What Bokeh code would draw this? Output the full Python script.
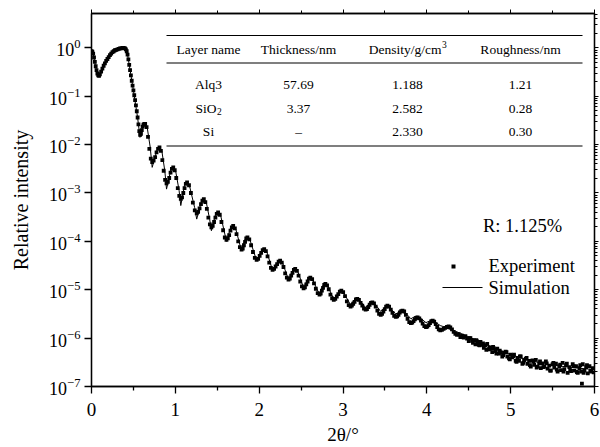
import math
from bokeh.plotting import figure
from bokeh.models import (LogAxis, LinearAxis, Label, BoxAnnotation,
                          FixedTicker, Range1d, CustomJSTickFormatter, LogTickFormatter)
from bokeh.embed import file_html
from bokeh.resources import INLINE

FONT = "Liberation Serif"

# ---------------- data (2theta in degrees, log10 of relative intensity) ----------------
exp_x = [
    0.000, 0.010, 0.020, 0.030, 0.040, 0.050, 0.060, 0.070, 0.080, 0.090,
    0.100, 0.115, 0.130, 0.145, 0.160, 0.175, 0.190, 0.205, 0.220, 0.235,
    0.250, 0.265, 0.280, 0.295, 0.310, 0.325, 0.340, 0.355, 0.370, 0.385,
    0.400, 0.410, 0.420, 0.430, 0.440, 0.450, 0.460, 0.470, 0.480, 0.490,
    0.500, 0.510, 0.520, 0.530, 0.540, 0.550, 0.560, 0.570, 0.580, 0.590,
    0.600, 0.610, 0.620, 0.630, 0.640,
    0.657, 0.674, 0.690, 0.707, 0.724, 0.741, 0.759, 0.776, 0.794, 0.811,
    0.828, 0.845, 0.861, 0.878, 0.895, 0.911, 0.927, 0.943, 0.959, 0.975,
    0.993, 1.011, 1.029, 1.047, 1.065, 1.080, 1.095, 1.110, 1.125, 1.140,
    1.163, 1.186, 1.209, 1.232, 1.255, 1.272, 1.289, 1.306, 1.323, 1.340,
    1.358, 1.376, 1.394, 1.412, 1.430, 1.446, 1.462, 1.478, 1.494, 1.510,
    1.530, 1.550, 1.570, 1.590, 1.610, 1.626, 1.642, 1.658, 1.674, 1.690,
    1.710, 1.730, 1.750, 1.770, 1.790, 1.804, 1.818, 1.832, 1.846, 1.860,
    1.882, 1.904, 1.926, 1.948, 1.970, 1.988, 2.006, 2.024, 2.042, 2.060,
    2.080, 2.100, 2.120, 2.140, 2.160, 2.178, 2.196, 2.214, 2.232, 2.250,
    2.270, 2.290, 2.310, 2.330, 2.350, 2.366, 2.382, 2.398, 2.414, 2.430,
    2.450, 2.470, 2.490, 2.510, 2.530, 2.546, 2.562, 2.578, 2.594, 2.610,
    2.632, 2.654, 2.676, 2.698, 2.720, 2.734, 2.748, 2.762, 2.776, 2.790,
    2.810, 2.830, 2.850, 2.870, 2.890, 2.908, 2.926, 2.944, 2.962, 2.980,
    3.002, 3.024, 3.046, 3.068, 3.090, 3.106, 3.122, 3.138, 3.154, 3.170,
    3.190, 3.210, 3.230, 3.250, 3.270, 3.286, 3.302, 3.318, 3.334, 3.350,
    3.370, 3.390, 3.410, 3.430, 3.450, 3.466, 3.482, 3.498, 3.514, 3.530,
    3.550, 3.570, 3.590, 3.610, 3.630, 3.646, 3.662, 3.678, 3.694, 3.710,
    3.730, 3.750, 3.770, 3.790, 3.810, 3.826, 3.842, 3.858, 3.874, 3.890,
    3.910, 3.930, 3.950, 3.970, 3.990, 4.006, 4.022, 4.038, 4.054, 4.070,
    4.088, 4.106, 4.124, 4.142, 4.160, 4.180, 4.200, 4.220, 4.240, 4.260,
    4.280, 4.300, 4.320, 4.340, 4.360,
    4.38, 4.40, 4.42, 4.44, 4.46, 4.48, 4.50, 4.52, 4.54, 4.56,
    4.58, 4.60, 4.62, 4.64, 4.66, 4.68, 4.70, 4.72, 4.74, 4.76,
    4.78, 4.80, 4.82, 4.84, 4.86, 4.88, 4.90, 4.92, 4.94, 4.96,
    4.98, 5.00, 5.02, 5.04, 5.06, 5.08, 5.10, 5.12, 5.14, 5.16,
    5.18, 5.20, 5.22, 5.24, 5.26, 5.28, 5.30, 5.32, 5.34, 5.36,
    5.38, 5.40, 5.42, 5.44, 5.46, 5.48, 5.50, 5.52, 5.54, 5.56,
    5.58, 5.60, 5.62, 5.64, 5.66, 5.68, 5.70, 5.72, 5.74, 5.76,
    5.78, 5.80, 5.82, 5.84, 5.86, 5.88, 5.90, 5.92, 5.94, 5.96,
    5.98, 5.99, 5.85,
    4.51, 4.55, 4.59, 4.63, 4.67, 4.71, 4.75, 4.79, 4.83, 4.87,
    4.91, 4.95, 4.99, 5.03, 5.07, 5.11, 5.15, 5.19, 5.23, 5.27,
    5.31, 5.35, 5.39, 5.43, 5.47, 5.51, 5.55, 5.59, 5.63, 5.67,
    5.71, 5.75, 5.79, 5.83, 5.87, 5.91, 5.95,
]
exp_log = [
    -0.07, -0.08, -0.12, -0.20, -0.29, -0.38, -0.46, -0.53, -0.57, -0.58,
    -0.55, -0.49, -0.43, -0.37, -0.32, -0.27, -0.23, -0.19, -0.15, -0.12,
    -0.09, -0.07, -0.05, -0.04, -0.03, -0.02, -0.01, -0.01, 0.00, 0.00,
    -0.01, -0.03, -0.07, -0.14, -0.24, -0.35, -0.46, -0.57, -0.68, -0.78,
    -0.88, -0.98, -1.08, -1.19, -1.31, -1.44, -1.58, -1.72, -1.80, -1.78,
    -1.70, -1.63, -1.59, -1.57, -1.57,
    -1.64, -1.84, -2.09, -2.29, -2.36, -2.33, -2.26, -2.16, -2.09, -2.06,
    -2.13, -2.32, -2.54, -2.73, -2.80, -2.77, -2.69, -2.58, -2.50, -2.47,
    -2.53, -2.69, -2.90, -3.06, -3.12, -3.09, -3.00, -2.90, -2.81, -2.78,
    -2.84, -3.00, -3.20, -3.36, -3.42, -3.39, -3.32, -3.23, -3.16, -3.13,
    -3.19, -3.33, -3.51, -3.65, -3.71, -3.68, -3.60, -3.51, -3.43, -3.40,
    -3.45, -3.60, -3.77, -3.92, -3.97, -3.94, -3.87, -3.78, -3.71, -3.68,
    -3.73, -3.85, -4.00, -4.12, -4.17, -4.15, -4.08, -4.01, -3.94, -3.92,
    -3.96, -4.08, -4.22, -4.34, -4.38, -4.36, -4.30, -4.24, -4.18, -4.16,
    -4.20, -4.31, -4.44, -4.55, -4.59, -4.57, -4.52, -4.47, -4.42, -4.40,
    -4.44, -4.53, -4.66, -4.75, -4.79, -4.77, -4.71, -4.65, -4.59, -4.57,
    -4.61, -4.71, -4.83, -4.93, -4.97, -4.95, -4.89, -4.83, -4.77, -4.75,
    -4.78, -4.87, -4.98, -5.07, -5.10, -5.08, -5.02, -4.96, -4.90, -4.88,
    -4.91, -4.99, -5.10, -5.18, -5.21, -5.19, -5.14, -5.09, -5.04, -5.02,
    -5.05, -5.13, -5.24, -5.32, -5.35, -5.33, -5.29, -5.25, -5.20, -5.19,
    -5.21, -5.27, -5.33, -5.39, -5.41, -5.40, -5.36, -5.31, -5.27, -5.26,
    -5.28, -5.35, -5.43, -5.50, -5.52, -5.50, -5.45, -5.40, -5.35, -5.33,
    -5.35, -5.41, -5.48, -5.54, -5.56, -5.55, -5.52, -5.47, -5.44, -5.43,
    -5.45, -5.52, -5.60, -5.67, -5.69, -5.68, -5.65, -5.61, -5.58, -5.57,
    -5.59, -5.64, -5.70, -5.75, -5.77, -5.76, -5.73, -5.69, -5.65, -5.64,
    -5.66, -5.71, -5.77, -5.82, -5.84, -5.83, -5.81, -5.79, -5.77, -5.76,
    -5.78, -5.82, -5.87, -5.91, -5.93,
    -5.92, -5.98, -5.95, -5.99, -5.96, -6.01, -6.06, -6.00, -6.05, -6.04,
    -6.13, -6.07, -6.14, -6.08, -6.14, -6.20, -6.15, -6.12, -6.23, -6.22,
    -6.29, -6.21, -6.27, -6.22, -6.32, -6.30, -6.38, -6.30, -6.28, -6.38,
    -6.42, -6.34, -6.40, -6.34, -6.47, -6.41, -6.47, -6.38, -6.53, -6.46,
    -6.43, -6.53, -6.47, -6.59, -6.46, -6.55, -6.45, -6.59, -6.52, -6.62,
    -6.52, -6.59, -6.48, -6.63, -6.57, -6.67, -6.54, -6.61, -6.53, -6.69,
    -6.58, -6.66, -6.51, -6.64, -6.56, -6.72, -6.60, -6.68, -6.54, -6.67,
    -6.58, -6.72, -6.62, -6.69, -6.54, -6.67, -6.60, -6.73, -6.58, -6.67,
    -6.62, -6.71, -6.94,
    -6.00, -6.10, -6.04, -6.15, -6.11, -6.24, -6.19, -6.18, -6.32, -6.26,
    -6.35, -6.29, -6.44, -6.37, -6.49, -6.38, -6.51, -6.41, -6.56, -6.48,
    -6.61, -6.48, -6.60, -6.52, -6.67, -6.51, -6.65, -6.55, -6.69, -6.53,
    -6.66, -6.58, -6.70, -6.56, -6.72, -6.56, -6.69,
]

sim_x = [
    0.000, 0.020, 0.050, 0.085, 0.120, 0.200, 0.300, 0.385, 0.410, 0.430,
    0.450, 0.500, 0.550, 0.578, 0.610, 0.640, 0.665, 0.700, 0.724, 0.780,
    0.811, 0.840, 0.875, 0.895, 0.945, 0.975, 1.005, 1.045, 1.065, 1.110,
    1.140, 1.170, 1.230, 1.255, 1.310, 1.340, 1.370, 1.410, 1.430, 1.480,
    1.510, 1.540, 1.610, 1.660, 1.690, 1.720, 1.790, 1.830, 1.860, 1.890,
    1.970, 2.030, 2.060, 2.090, 2.160, 2.220, 2.250, 2.280, 2.350, 2.400,
    2.430, 2.460, 2.530, 2.580, 2.610, 2.640, 2.720, 2.760, 2.790, 2.820,
    2.890, 2.950, 2.980, 3.010, 3.090, 3.140, 3.170, 3.200, 3.270, 3.320,
    3.350, 3.380, 3.450, 3.500, 3.530, 3.560, 3.630, 3.680, 3.710, 3.740,
    3.810, 3.860, 3.890, 3.920, 3.990, 4.040, 4.070, 4.100, 4.160, 4.260,
    4.400, 4.600, 4.800, 5.000, 5.200, 5.400, 5.600, 5.800, 6.000,
]
sim_log = [
    -0.05, -0.12, -0.40, -0.60, -0.45, -0.20, -0.05, 0.00, -0.03, -0.14,
    -0.35, -0.88, -1.44, -1.85, -1.63, -1.57, -1.65, -2.05, -2.47, -2.12,
    -2.06, -2.14, -2.55, -2.92, -2.53, -2.47, -2.56, -2.95, -3.26, -2.84,
    -2.78, -2.86, -3.30, -3.54, -3.18, -3.13, -3.20, -3.55, -3.78, -3.44,
    -3.40, -3.46, -4.00, -3.72, -3.68, -3.74, -4.20, -3.96, -3.92, -3.97,
    -4.40, -4.19, -4.16, -4.21, -4.60, -4.43, -4.40, -4.45, -4.79, -4.60,
    -4.57, -4.62, -4.96, -4.78, -4.75, -4.80, -5.10, -4.91, -4.88, -4.93,
    -5.20, -5.05, -5.03, -5.07, -5.31, -5.20, -5.18, -5.22, -5.37, -5.27,
    -5.26, -5.29, -5.45, -5.36, -5.35, -5.38, -5.50, -5.45, -5.44, -5.47,
    -5.60, -5.55, -5.55, -5.58, -5.68, -5.64, -5.64, -5.67, -5.74, -5.80,
    -5.90, -6.05, -6.20, -6.34, -6.45, -6.53, -6.58, -6.62, -6.65,
]

x_ticks = [0, 1, 2, 3, 4, 5, 6]
y_exponents = [0, -1, -2, -3, -4, -5, -6, -7]

table_header = ["Layer name", "Thickness/nm", "Density/g/cm", "Roughness/nm"]
layer_names = ["Alq3", "SiO", "Si"]
layer_subscripts = ["", "2", ""]
thickness = ["57.69", "3.37", "\u2013"]
density = ["1.188", "2.582", "2.330"]
roughness = ["1.21", "0.28", "0.30"]
r_factor = "R: 1.125%"
legend_labels = ["Experiment", "Simulation"]

exp_I = [10 ** v for v in exp_log]
sim_I = [10 ** v for v in sim_log]

# ---------------- figure ----------------
W, H = 600, 447
FL, FR, FT, FB = 91, 594, 13, 386   # frame edges in page pixels
p = figure(width=W, height=H, y_axis_type="log",
           x_range=Range1d(0, 6), y_range=Range1d(1e-7, 10 ** 0.71),
           output_backend="svg", toolbar_location=None,
           min_border_left=FL, min_border_right=W - FR, min_border_top=FT, min_border_bottom=H - FB)
p.grid.visible = False
p.outline_line_color = "black"
p.outline_line_width = 1.3
p.background_fill_color = "white"
p.border_fill_color = "white"

minor_x = [0.5, 1.5, 2.5, 3.5, 4.5, 5.5]

# bottom axis
xa = p.xaxis[0]
xa.ticker = FixedTicker(ticks=x_ticks, minor_ticks=minor_x)
xa.major_tick_out = 7
xa.major_tick_in = 0
xa.minor_tick_out = 4
xa.minor_tick_in = 0
xa.axis_line_width = 1.3
xa.major_tick_line_width = 1.3
xa.minor_tick_line_width = 1.3
xa.major_label_text_font = FONT
xa.major_label_text_font_size = "19px"
xa.major_label_text_color = "black"
xa.major_label_standoff = 9
xa.axis_label = "2\u03b8/\u00b0"
xa.axis_label_text_font = FONT
xa.axis_label_text_font_size = "19px"
xa.axis_label_text_font_style = "normal"
xa.axis_label_text_color = "black"
xa.axis_label_standoff = 5

# left axis
ya = p.yaxis[0]
ya.ticker = FixedTicker(ticks=[10.0 ** e for e in y_exponents], minor_ticks=[])
ya.formatter = LogTickFormatter()
ya.major_label_text_font = FONT
ya.major_label_text_font_size = "18px"
ya.major_label_text_color = "black"
ya.major_label_standoff = 4
ya.major_tick_out = 7
ya.major_tick_in = 0
ya.minor_tick_out = 0
ya.minor_tick_in = 0
ya.axis_line_width = 1.3
ya.major_tick_line_width = 1.3
ya.axis_label = "Relative intensity"
ya.axis_label_text_font = FONT
ya.axis_label_text_font_size = "20px"
ya.axis_label_text_font_style = "normal"
ya.axis_label_text_color = "black"
ya.axis_label_standoff = 14

# right axis (ticks only)
minors_y = [m * 10.0 ** e for e in range(-7, 1) for m in range(2, 10)]
ra = LogAxis(ticker=FixedTicker(ticks=[10.0 ** e for e in y_exponents], minor_ticks=minors_y),
             formatter=CustomJSTickFormatter(code="return ''"),
             major_label_text_font_size="0px", major_label_standoff=0,
             major_tick_out=4, major_tick_in=0, minor_tick_out=3, minor_tick_in=0,
             axis_line_width=1.3)
p.add_layout(ra, "right")

# top axis (ticks only)
ta = LinearAxis(ticker=FixedTicker(ticks=x_ticks, minor_ticks=minor_x),
                formatter=CustomJSTickFormatter(code="return ''"),
                major_label_text_font_size="0px", major_label_standoff=0,
                major_tick_out=4, major_tick_in=0, minor_tick_out=3, minor_tick_in=0,
                axis_line_width=1.3)
p.add_layout(ta, "above")

# data
r_sim = p.line(sim_x, sim_I, line_color="black", line_width=1)
r_exp = p.scatter(exp_x, exp_I, marker="square", size=3.8,
                  fill_color="black", line_color="black", line_width=0)

# annotation helpers: screen units are measured from the frame's bottom-left corner
def fx(X):
    return X - FL

def fy(Y):
    return FB - Y

def tlabel(X, Y, text, align="center", size="13.5px", yoff=0):
    p.add_layout(Label(x=fx(X), y=fy(Y), x_units="screen", y_units="screen", text=text,
                       y_offset=yoff, text_align=align, text_baseline="middle",
                       text_font=FONT, text_font_size=size, text_color="black"))

def hbar(X1, X2, Y, t=1.2):
    p.add_layout(BoxAnnotation(left=fx(X1), right=fx(X2), top=fy(Y) + t / 2, bottom=fy(Y) - t / 2,
                               left_units="screen", right_units="screen",
                               top_units="screen", bottom_units="screen",
                               fill_color="black", fill_alpha=1, line_alpha=0))

# legend (drawn by hand so that marker and line sit exactly where they do in the original)
p.add_layout(BoxAnnotation(left=fx(451), right=fx(455), top=fy(264), bottom=fy(268),
                           left_units="screen", right_units="screen",
                           top_units="screen", bottom_units="screen",
                           fill_color="black", fill_alpha=1, line_alpha=0))
tlabel(488, 265, legend_labels[0], align="left", size="18.5px")
hbar(442, 482, 287, t=1.0)
tlabel(488, 287, legend_labels[1], align="left", size="18.5px")

# R factor
tlabel(522, 225, r_factor, size="18.5px")

# table
hbar(166, 582, 35)
hbar(166, 582, 62.5)
hbar(166, 582, 145.5)
col_x = [208, 298, 407, 520]
tlabel(col_x[0], 49, table_header[0])
tlabel(col_x[1], 49, table_header[1])
tlabel(col_x[2] + 34, 49, table_header[2], align="right")
tlabel(col_x[2] + 34.5, 49, "3", align="left", size="9.5px", yoff=5)
tlabel(col_x[3], 49, table_header[3])

row_y = [84, 108, 131]
for i in range(3):
    if layer_subscripts[i]:
        tlabel(col_x[0] + 8, row_y[i], layer_names[i], align="right")
        tlabel(col_x[0] + 8.5, row_y[i], layer_subscripts[i], align="left", size="9.5px", yoff=-3)
    else:
        tlabel(col_x[0], row_y[i], layer_names[i])
    tlabel(col_x[1], row_y[i], thickness[i])
    tlabel(col_x[2], row_y[i], density[i])
    tlabel(col_x[3], row_y[i], roughness[i])

open("out.html", "w").write(file_html(p, INLINE))
